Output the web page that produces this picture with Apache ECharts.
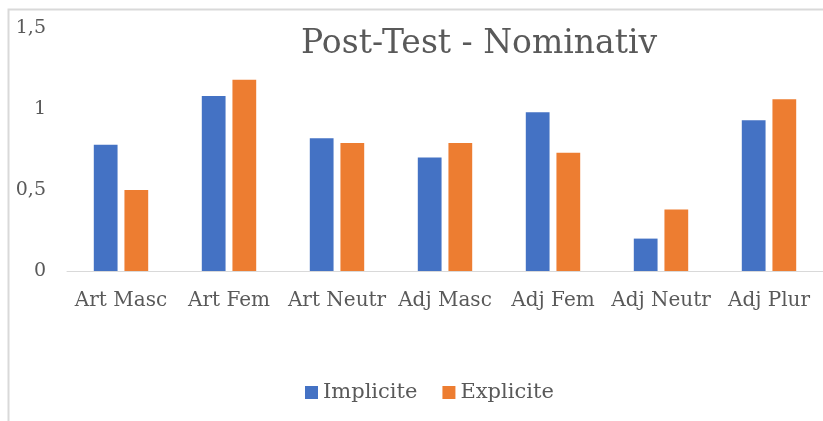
<html>
<head>
<meta charset="utf-8">
<title>Post-Test - Nominativ</title>
<script src="https://cdn.jsdelivr.net/npm/echarts@6/dist/echarts.min.js"></script>
</head>
<body style="margin:0;background:#fff;">
<div id="main" style="width:823px;height:421px;"></div>
<script>
var categories = ['Art Masc', 'Art Fem', 'Art Neutr', 'Adj Masc', 'Adj Fem', 'Adj Neutr', 'Adj Plur'];
var implicite = [0.78, 1.08, 0.82, 0.70, 0.98, 0.20, 0.93];
var explicite = [0.50, 1.18, 0.79, 0.79, 0.73, 0.38, 1.06];
var yTicks = [0, 0.5, 1, 1.5];

var font = 'DejaVu Serif';
var grey = '#595959';

var chart = echarts.init(document.getElementById('main'));
chart.setOption({
    animation: false,
    textStyle: {fontFamily: font},
    graphic: [{
        type: 'polyline',
        shape: {points: [[8.5, 421], [8.5, 9.5], [823, 9.5]]},
        style: {stroke: '#d9d9d9', lineWidth: 2, fill: null}
    }],
    title: {
        text: 'Post-Test - Nominativ',
        left: 296, top: 23,
        textStyle: {fontFamily: font, fontSize: 33, fontWeight: 'normal', color: grey}
    },
    legend: {
        data: ['Implicite', 'Explicite'],
        top: 377, left: 300,
        itemWidth: 13, itemHeight: 13, itemGap: 25,
        icon: 'rect',
        textStyle: {fontFamily: font, fontSize: 21, color: grey}
    },
    grid: {left: 67, right: 0, top: 28, bottom: 150, containLabel: false},
    xAxis: {
        type: 'category',
        data: categories,
        axisLine: {lineStyle: {color: '#d9d9d9', width: 1}},
        axisTick: {show: false},
        axisLabel: {fontFamily: font, fontSize: 20, color: grey, margin: 20, interval: 0}
    },
    yAxis: {
        type: 'value',
        min: 0, max: 1.5, interval: 0.5,
        splitLine: {show: false},
        axisLine: {show: false},
        axisTick: {show: false},
        axisLabel: {
            fontFamily: font, fontSize: 19, color: grey, margin: 21,
            formatter: function (v) {
                return yTicks.indexOf(v) >= 0 ? String(v).replace('.', ',') : '';
            }
        }
    },
    series: [{
        name: 'Implicite',
        type: 'bar',
        data: implicite,
        barWidth: '22%',
        barGap: '29%',
        itemStyle: {color: '#4472c4'}
    }, {
        name: 'Explicite',
        type: 'bar',
        data: explicite,
        barWidth: '22%',
        itemStyle: {color: '#ed7d31'}
    }]
});
</script>
</body>
</html>
